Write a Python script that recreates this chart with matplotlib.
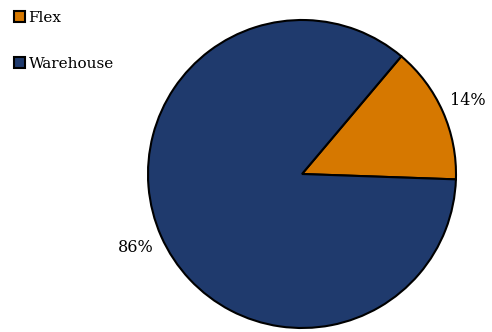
import matplotlib
matplotlib.use("Agg")
from matplotlib import pyplot as plt
from matplotlib.patches import Patch

# data
labels = ["Flex", "Warehouse"]
values = [14.4, 85.6]
colors = ["#D67800", "#1F3A6D"]

plt.rcParams["font.family"] = ["DejaVu Serif"]

fig = plt.figure(figsize=(4.92, 3.32), dpi=100)
ax = fig.add_axes([148 / 492, 4 / 332, 308 / 492, 308 / 332])

wedges, texts, autotexts = ax.pie(
    values, colors=colors, startangle=-2, counterclock=True,
    autopct="%1.0f%%", pctdistance=1.18, radius=1.0,
    wedgeprops=dict(edgecolor="black", linewidth=1.5),
    textprops=dict(fontsize=11.5),
)
ax.set_xlim(-1, 1)
ax.set_ylim(-1, 1)
ax.set_aspect("equal")

handles = [Patch(facecolor=c, edgecolor="black", linewidth=1.5) for c in colors]
fig.legend(handles, labels, loc="upper left", bbox_to_anchor=(0.016, 0.985),
           frameon=False, fontsize=11, handlelength=0.7, handleheight=0.7,
           handletextpad=0.25, labelspacing=2.1, borderaxespad=0)

fig.savefig("out.png", dpi=100)
